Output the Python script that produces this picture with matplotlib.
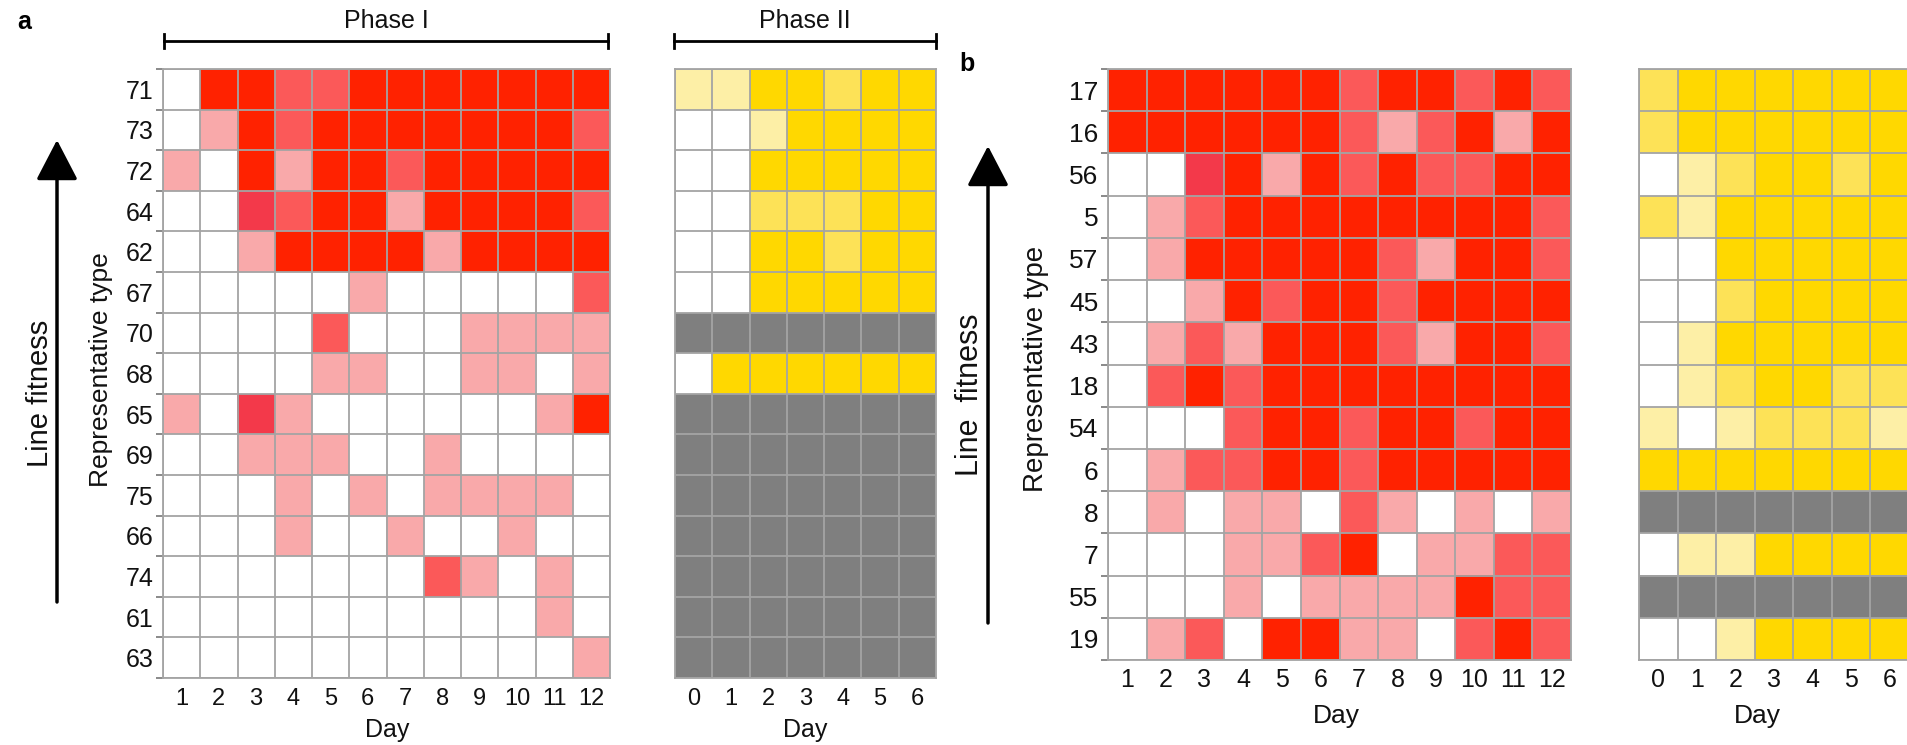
import numpy as np
import matplotlib.pyplot as plt
from matplotlib.colors import to_rgb

plt.rcParams['font.family'] = ['Liberation Sans', 'DejaVu Sans']

# --- Dati: livello per cella, -1 = mancante (grigio) ---
days_phase1 = list(range(1, 13))
days_phase2 = list(range(0, 7))

types_a = ['71', '73', '72', '64', '62', '67', '70', '68', '65', '69', '75', '66', '74', '61', '63']
a_phase1 = [
    [0, 4, 4, 2, 2, 4, 4, 4, 4, 4, 4, 4],
    [0, 1, 4, 2, 4, 4, 4, 4, 4, 4, 4, 2],
    [1, 0, 4, 1, 4, 4, 2, 4, 4, 4, 4, 4],
    [0, 0, 3, 2, 4, 4, 1, 4, 4, 4, 4, 2],
    [0, 0, 1, 4, 4, 4, 4, 1, 4, 4, 4, 4],
    [0, 0, 0, 0, 0, 1, 0, 0, 0, 0, 0, 2],
    [0, 0, 0, 0, 2, 0, 0, 0, 1, 1, 1, 1],
    [0, 0, 0, 0, 1, 1, 0, 0, 1, 1, 0, 1],
    [1, 0, 3, 1, 0, 0, 0, 0, 0, 0, 1, 4],
    [0, 0, 1, 1, 1, 0, 0, 1, 0, 0, 0, 0],
    [0, 0, 0, 1, 0, 1, 0, 1, 1, 1, 1, 0],
    [0, 0, 0, 1, 0, 0, 1, 0, 0, 1, 0, 0],
    [0, 0, 0, 0, 0, 0, 0, 2, 1, 0, 1, 0],
    [0, 0, 0, 0, 0, 0, 0, 0, 0, 0, 1, 0],
    [0, 0, 0, 0, 0, 0, 0, 0, 0, 0, 0, 1],
]
a_phase2 = [
    [1, 1, 3, 3, 2, 3, 3],
    [0, 0, 1, 3, 3, 3, 3],
    [0, 0, 3, 3, 3, 3, 3],
    [0, 0, 2, 2, 2, 3, 3],
    [0, 0, 3, 3, 2, 3, 3],
    [0, 0, 3, 3, 3, 3, 3],
    [-1, -1, -1, -1, -1, -1, -1],
    [0, 3, 3, 3, 3, 3, 3],
    [-1, -1, -1, -1, -1, -1, -1],
    [-1, -1, -1, -1, -1, -1, -1],
    [-1, -1, -1, -1, -1, -1, -1],
    [-1, -1, -1, -1, -1, -1, -1],
    [-1, -1, -1, -1, -1, -1, -1],
    [-1, -1, -1, -1, -1, -1, -1],
    [-1, -1, -1, -1, -1, -1, -1],
]

types_b = ['17', '16', '56', '5', '57', '45', '43', '18', '54', '6', '8', '7', '55', '19']
b_phase1 = [
    [4, 4, 4, 4, 4, 4, 2, 4, 4, 2, 4, 2],
    [4, 4, 4, 4, 4, 4, 2, 1, 2, 4, 1, 4],
    [0, 0, 3, 4, 1, 4, 2, 4, 2, 2, 4, 4],
    [0, 1, 2, 4, 4, 4, 4, 4, 4, 4, 4, 2],
    [0, 1, 4, 4, 4, 4, 4, 2, 1, 4, 4, 2],
    [0, 0, 1, 4, 2, 4, 4, 2, 4, 4, 4, 4],
    [0, 1, 2, 1, 4, 4, 4, 2, 1, 4, 4, 2],
    [0, 2, 4, 2, 4, 4, 4, 4, 4, 4, 4, 4],
    [0, 0, 0, 2, 4, 4, 2, 4, 4, 2, 4, 4],
    [0, 1, 2, 2, 4, 4, 2, 4, 4, 4, 4, 4],
    [0, 1, 0, 1, 1, 0, 2, 1, 0, 1, 0, 1],
    [0, 0, 0, 1, 1, 2, 4, 0, 1, 1, 2, 2],
    [0, 0, 0, 1, 0, 1, 1, 1, 1, 4, 2, 2],
    [0, 1, 2, 0, 4, 4, 1, 1, 0, 2, 4, 2],
]
b_phase2 = [
    [2, 3, 3, 3, 3, 3, 3],
    [2, 3, 3, 3, 3, 3, 3],
    [0, 1, 2, 3, 3, 2, 3],
    [2, 1, 3, 3, 3, 3, 3],
    [0, 0, 3, 3, 3, 3, 3],
    [0, 0, 2, 3, 3, 3, 3],
    [0, 1, 3, 3, 3, 3, 3],
    [0, 1, 2, 3, 3, 2, 2],
    [1, 0, 1, 2, 2, 2, 1],
    [3, 3, 3, 3, 3, 3, 3],
    [-1, -1, -1, -1, -1, -1, -1],
    [0, 1, 1, 3, 3, 3, 3],
    [-1, -1, -1, -1, -1, -1, -1],
    [0, 0, 1, 3, 3, 3, 3],
]

# --- Colori ---
red_levels = ['#ffffff', '#f9a9aa', '#fb5959', '#f3394a', '#ff2200']
yellow_levels = ['#ffffff', '#fdefa6', '#fde257', '#ffd800']
missing = '#7f7f7f'
grid_col = '#a4a4a4'
txt_col = '#111111'


def to_img(levels, palette):
    arr = np.array(levels)
    img = np.zeros(arr.shape + (3,))
    for i in range(arr.shape[0]):
        for j in range(arr.shape[1]):
            v = arr[i, j]
            img[i, j] = to_rgb(missing if v < 0 else palette[v])
    return img


def heatmap(ax, levels, palette, days, types=None, xfs=16, yfs=16, xpad=4, ypad=6):
    img = to_img(levels, palette)
    nr, nc = img.shape[:2]
    ax.imshow(img, aspect='auto', interpolation='nearest')
    ax.set_xticks(range(nc))
    ax.set_xticklabels(days, fontsize=xfs, color=txt_col)
    ax.set_xticks(np.arange(-0.5, nc), minor=True)
    ax.set_yticks(np.arange(-0.5, nr), minor=True)
    ax.grid(which='minor', color=grid_col, lw=1.3)
    ax.tick_params(axis='x', which='major', length=0, pad=xpad)
    ax.tick_params(axis='x', which='minor', length=0)
    if types is not None:
        ax.set_yticks(range(nr))
        ax.set_yticklabels(types, fontsize=yfs, color=txt_col)
        ax.tick_params(axis='y', which='major', length=0, pad=ypad)
        ax.tick_params(axis='y', which='minor', length=5, width=1.3, color='#808080')
    else:
        ax.set_yticks([])
        ax.tick_params(axis='y', which='minor', length=0)
    for s in ax.spines.values():
        s.set_color(grid_col)
        s.set_linewidth(1.3)


W, H = 1907, 745
fig = plt.figure(figsize=(W / 100, H / 100), dpi=100)


def px_axes(x0, y0, x1, y1):
    return fig.add_axes([x0 / W, 1 - y1 / H, (x1 - x0) / W, (y1 - y0) / H])


ax_a1 = px_axes(163, 69, 610, 678)
ax_a2 = px_axes(675, 69, 936, 678)
ax_b1 = px_axes(1108, 69, 1571, 660)
ax_b2 = px_axes(1639, 69, 1909, 660)

heatmap(ax_a1, a_phase1, red_levels, days_phase1, types_a, xfs=17, yfs=18, xpad=7, ypad=7)
heatmap(ax_a2, a_phase2, yellow_levels, days_phase2, None, xfs=17, xpad=7)
heatmap(ax_b1, b_phase1, red_levels, days_phase1, types_b, xfs=18, yfs=19, xpad=6, ypad=7)
heatmap(ax_b2, b_phase2, yellow_levels, days_phase2, None, xfs=18, xpad=6)

# --- Annotazioni in coordinate pixel ---
ov = fig.add_axes([0, 0, 1, 1], zorder=-1)
ov.set_xlim(0, W)
ov.set_ylim(H, 0)
ov.axis('off')

ov.text(24, 22, 'a', fontsize=18, fontweight='bold', ha='center', va='center')
ov.text(967, 64, 'b', fontsize=18, fontweight='bold', ha='center', va='center')

# parentesi Phase I / Phase II
for x0, x1, lab in [(164, 608, 'Phase I'), (674, 936, 'Phase II')]:
    ov.plot([x0, x1], [41, 41], color='k', lw=2)
    ov.plot([x0, x0], [34, 48], color='k', lw=2)
    ov.plot([x1, x1], [34, 48], color='k', lw=2)
    ov.text((x0 + x1) / 2, 21, lab, fontsize=18, ha='center', va='center', color=txt_col)

# etichette Day
ov.text(387, 730, 'Day', fontsize=18, ha='center', va='center', color=txt_col)
ov.text(805, 730, 'Day', fontsize=18, ha='center', va='center', color=txt_col)
ov.text(1336, 716, 'Day', fontsize=19, ha='center', va='center', color=txt_col)
ov.text(1757, 716, 'Day', fontsize=19, ha='center', va='center', color=txt_col)

# frecce fitness
arrow_kw = dict(arrowstyle='-|>,head_length=2.5,head_width=1.3', lw=2.5, color='k',
                shrinkA=0, shrinkB=0, mutation_scale=10)
ov.annotate('', xy=(57, 140), xytext=(57, 602), arrowprops=arrow_kw)
ov.annotate('', xy=(988, 146), xytext=(988, 623), arrowprops=arrow_kw)

ov.text(40, 393, 'Line fitness', fontsize=21, rotation=90, ha='center', va='center', color=txt_col)
ov.text(101, 370, 'Representative type', fontsize=19, rotation=90, ha='center', va='center', color=txt_col)
ov.text(970, 395, 'Line  fitness', fontsize=22, rotation=90, ha='center', va='center', color=txt_col)
ov.text(1036, 369, 'Representative type', fontsize=20, rotation=90, ha='center', va='center', color=txt_col)

fig.savefig('out.png', dpi=100)
